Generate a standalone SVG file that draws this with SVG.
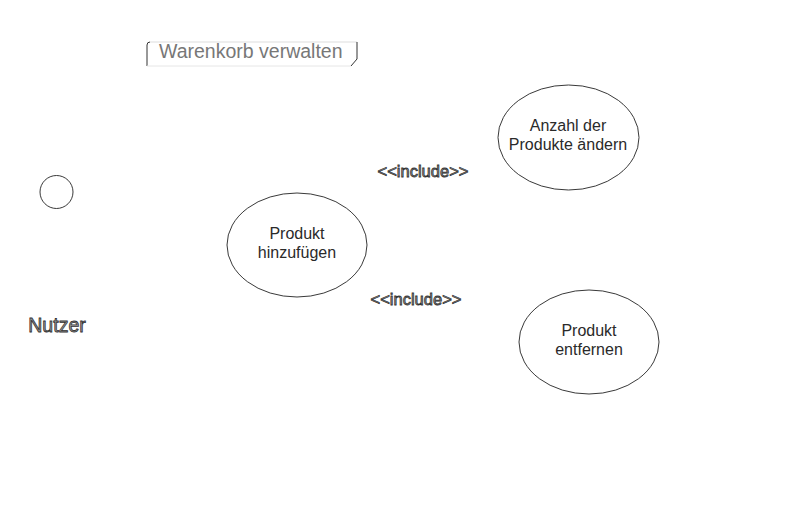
<svg xmlns="http://www.w3.org/2000/svg" width="800" height="519" viewBox="0 0 800 519">
<style>
.uc{fill:#fff;stroke:#222;stroke-width:0.9}
.t{font-family:"Liberation Sans",Arial,sans-serif;font-size:16px;fill:#2a2a2a;text-anchor:middle}
.halo{font-family:"Liberation Sans",Arial,sans-serif;fill:#9a9a9a;stroke:#333;stroke-width:0.8;text-anchor:middle}
</style>
<rect width="800" height="519" fill="#fff"/>
<g id="frame-label">
<path d="M147,66 L147,45 Q147,42 150,42" fill="none" stroke="#333" stroke-width="1"/>
<path d="M150,42 L357,42" fill="none" stroke="#ddd" stroke-width="1"/>
<path d="M357,42 L357,59 L351,66" fill="none" stroke="#333" stroke-width="1"/>
<path d="M147,66 L351,66" fill="none" stroke="#e6e6e6" stroke-width="1"/>
<text x="159" y="58" style="font-family:'Liberation Sans',Arial,sans-serif;font-size:19.5px;fill:#777">Warenkorb verwalten</text>
</g>
<g id="actor-nutzer">
<circle cx="56.5" cy="192" r="16.5" fill="#fff" stroke="#222" stroke-width="0.9"/>
<text class="halo" x="57" y="332" style="font-size:19.5px">Nutzer</text>
</g>
<g id="uc-anzahl">
<ellipse class="uc" cx="568.5" cy="137.5" rx="70.5" ry="52.5"/>
<text class="t" x="568" y="131">Anzahl der</text>
<text class="t" x="568" y="150">Produkte ändern</text>
</g>
<g id="uc-hinzufuegen">
<ellipse class="uc" cx="297" cy="245" rx="70" ry="52"/>
<text class="t" x="297" y="239">Produkt</text>
<text class="t" x="297" y="258">hinzufügen</text>
</g>
<g id="uc-entfernen">
<ellipse class="uc" cx="589" cy="342" rx="70" ry="52"/>
<text class="t" x="589" y="336">Produkt</text>
<text class="t" x="589" y="355">entfernen</text>
</g>
<g id="connectors">
<text class="halo" x="423" y="177" style="font-size:16.5px">&lt;&lt;include&gt;&gt;</text>
<text class="halo" x="416" y="305" style="font-size:16.5px">&lt;&lt;include&gt;&gt;</text>
</g>
</svg>
